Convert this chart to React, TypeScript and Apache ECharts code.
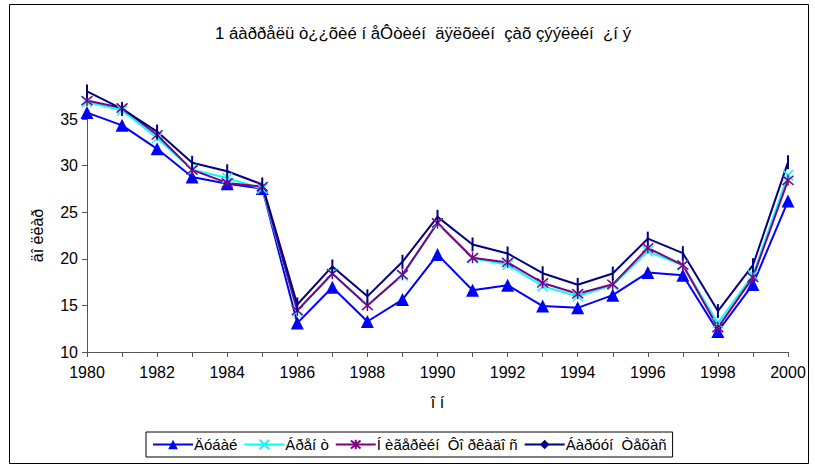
import React, { useEffect, useRef } from "react";
import * as echarts from "echarts";

const years = ["1980","1981","1982","1983","1984","1985","1986","1987","1988","1989","1990","1991","1992","1993","1994","1995","1996","1997","1998","1999","2000"];
const dubai = [35.69,34.32,31.80,28.78,28.06,27.53,13.10,16.95,13.27,15.62,20.45,16.63,17.17,14.93,14.74,16.10,18.52,18.23,12.21,17.25,26.20];
const brent = [36.83,35.93,32.97,29.55,28.66,27.51,14.38,18.42,15.02,18.20,23.81,20.05,19.37,17.07,15.98,17.18,20.80,19.30,13.11,18.25,28.98];
const nigeria = [36.98,36.18,33.29,29.54,28.14,27.75,14.46,18.39,15.00,18.30,23.85,20.11,19.61,17.41,16.25,17.26,21.16,19.33,12.62,18.00,28.42];
const wti = [37.96,36.08,33.65,30.30,29.39,27.98,15.10,19.18,15.97,19.68,24.50,21.54,20.57,18.45,17.21,18.42,22.16,20.61,14.39,19.31,30.37];

const seriesNames = ["Äóáàé", "Áðåí ò", "Í èãåðèéí  Ôî ðêàäî ñ", "Áàðóóí  Òåõàñ"];
const titleText = "1 áàððåëü ò¿¿õèé í åÔòèéí  äÿëõèéí  çàõ çýýëèéí  ¿í ý";
const yName = "äî ëëàð";
const xName = "î í";

const FONT = "'Liberation Sans', Arial, sans-serif";

export default function App() {
  const ref = useRef<HTMLDivElement>(null);
  useEffect(() => {
    document.body.style.margin = "0";
    const chart = echarts.init(ref.current!, null, { renderer: "svg" });
    const crossPath = "path://M0,0L10,10M10,0L0,10";
    const starPath = "path://M0,0L10,10M10,0L0,10M5,-1L5,11";
    chart.setOption({
      animation: false,
      backgroundColor: "#fff",
      textStyle: { fontFamily: FONT },
      title: {
        text: titleText,
        left: 418,
        top: 20,
        textAlign: "center",
        textStyle: { fontFamily: FONT, fontSize: 16.8, fontWeight: "normal", color: "#000" },
      },
      graphic: [
        {
          type: "rect",
          shape: { x: 9.5, y: 4.5, width: 799, height: 459 },
          style: { fill: "none", stroke: "#000", lineWidth: 1 },
          silent: true,
        },
      ],
      legend: {
        left: 146,
        top: 432,
        width: 592,
        height: 26,
        padding: [5, 6, 5, 6],
        borderColor: "#000",
        borderWidth: 1,
        itemWidth: 40,
        itemHeight: 12,
        itemGap: 6,
        textStyle: { fontFamily: FONT, fontSize: 15, color: "#000", padding: [0, 0, 0, -4] },
        data: seriesNames,
      },
      grid: { left: 87, right: 27, top: 119, bottom: 116, containLabel: false },
      xAxis: {
        type: "category",
        data: years,
        boundaryGap: false,
        name: xName,
        nameLocation: "middle",
        nameGap: 42,
        nameTextStyle: { fontFamily: FONT, fontSize: 16, color: "#000" },
        axisLine: { lineStyle: { color: "#555", width: 1 } },
        axisTick: { show: true, interval: 0, length: 5, lineStyle: { color: "#555" } },
        axisLabel: { interval: 1, margin: 12, fontFamily: FONT, fontSize: 16, color: "#000" },
        splitLine: { show: false },
      },
      yAxis: {
        type: "value",
        min: 10,
        max: 35,
        interval: 5,
        name: yName,
        nameLocation: "middle",
        nameGap: 42,
        nameTextStyle: { fontFamily: FONT, fontSize: 16, color: "#000" },
        axisLine: { show: true, lineStyle: { color: "#555", width: 1 } },
        axisTick: { show: true, length: 5, lineStyle: { color: "#555" } },
        axisLabel: { margin: 9, fontFamily: FONT, fontSize: 16, color: "#000" },
        splitLine: { show: false },
      },
      series: [
        {
          name: seriesNames[3],
          type: "line",
          data: [],
          symbol: "diamond",
          symbolSize: 11,
          itemStyle: { color: "#000080" },
          lineStyle: { color: "#000080", width: 2 },
        },
        {
          name: seriesNames[0],
          type: "line",
          data: dubai,
          clip: false,
          symbol: "triangle",
          symbolSize: 13,
          showAllSymbol: true,
          itemStyle: { color: "#0000ff" },
          lineStyle: { color: "#0000ff", width: 2 },
        },
        {
          name: seriesNames[1],
          type: "line",
          data: brent,
          clip: false,
          symbol: crossPath,
          symbolSize: 10,
          showAllSymbol: true,
          itemStyle: { color: "none", borderColor: "#00ffff", borderWidth: 1.5 },
          lineStyle: { color: "#00ffff", width: 2 },
        },
        {
          name: seriesNames[2],
          type: "line",
          data: nigeria,
          clip: false,
          symbol: starPath,
          symbolSize: 11,
          showAllSymbol: true,
          itemStyle: { color: "none", borderColor: "#800080", borderWidth: 1.5 },
          lineStyle: { color: "#800080", width: 2 },
        },
        {
          name: seriesNames[3],
          type: "line",
          data: wti,
          clip: false,
          symbol: "rect",
          symbolSize: [2, 14],
          showAllSymbol: true,
          itemStyle: { color: "#000080" },
          lineStyle: { color: "#000080", width: 2 },
        },
      ],
    });
    return () => chart.dispose();
  }, []);
  return <div ref={ref} style={{ width: 815, height: 468 }} />;
}
